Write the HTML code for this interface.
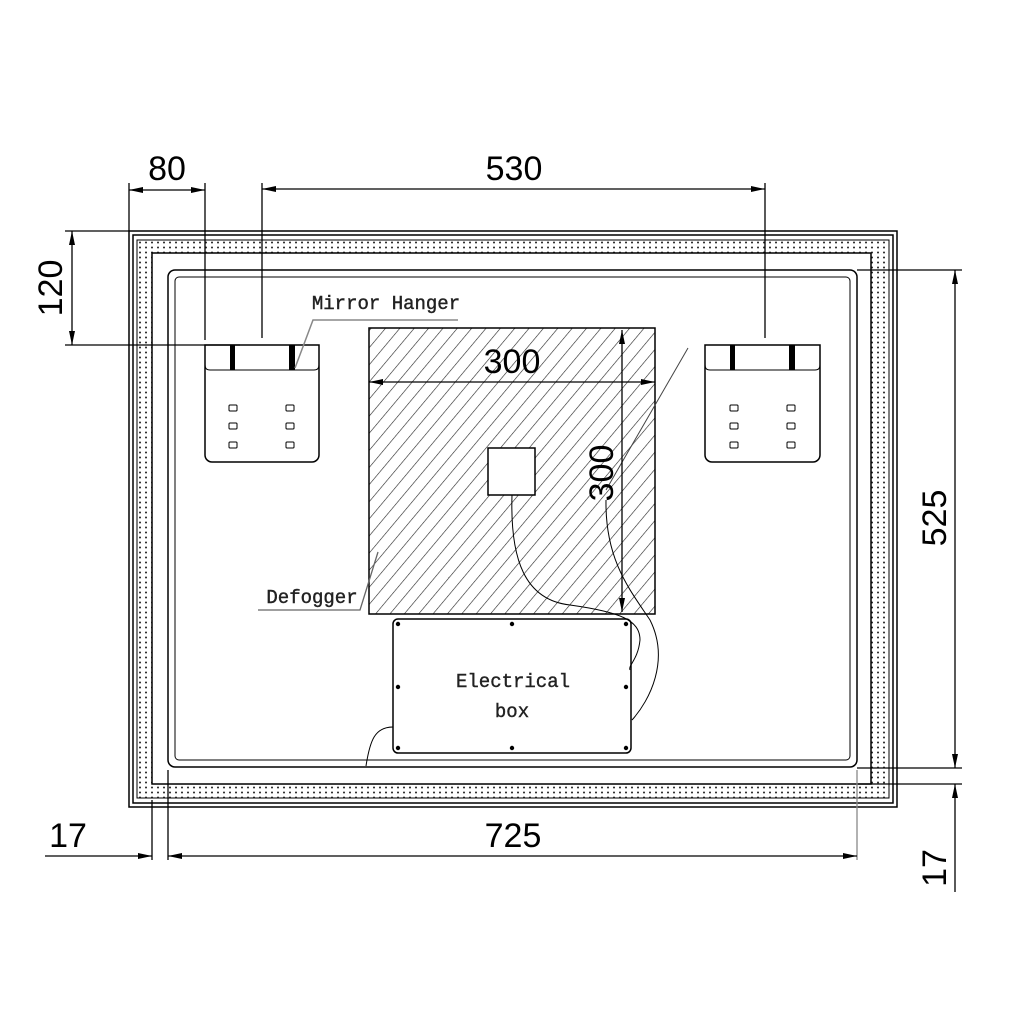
<!DOCTYPE html>
<html><head><meta charset="utf-8"><style>html,body{margin:0;padding:0;background:#fff}svg{display:block}</style></head>
<body>
<svg width="1024" height="1024" viewBox="0 0 1024 1024" xmlns="http://www.w3.org/2000/svg">
<defs>
<pattern id="h" width="11" height="11" patternUnits="userSpaceOnUse" patternTransform="rotate(40)">
<line x1="0" y1="0" x2="0" y2="11" stroke="#222" stroke-width="1.2"/></pattern>
<pattern id="d" width="6" height="5" patternUnits="userSpaceOnUse" x="137" y="240">
<circle cx="3" cy="2.5" r="1" fill="#222"/></pattern>
<marker id="a" viewBox="0 0 14 6" refX="14" refY="3" markerWidth="14" markerHeight="6" orient="auto-start-reverse" markerUnits="userSpaceOnUse">
<path d="M0,0 L14,3 L0,6 Z" fill="#000"/></marker>
</defs>
<g fill="none" stroke="#000" stroke-width="1.5">
<rect x="129" y="231" width="768" height="576"/>
<rect x="133" y="235" width="760" height="568"/>
<path d="M137,240 H889 V798 H137 Z M152,253 H871 V784 H152 Z" fill="url(#d)" fill-rule="evenodd" stroke="none"/>
<rect x="152" y="253" width="719" height="531"/>
<rect x="137" y="240" width="752" height="558" stroke-width="1"/>
<rect x="168" y="270" width="689" height="497" rx="7"/>
<rect x="175" y="277" width="675" height="483" rx="4" stroke-width="1"/>
<rect x="369" y="328" width="286" height="286" fill="url(#h)"/>
<rect x="488" y="448" width="47" height="47" fill="#fff"/>
<rect x="393" y="619" width="238" height="134" rx="5"/>
<path d="M205,345 H319 V455 a7,7 0 0 1 -7,7 H212 a7,7 0 0 1 -7,-7 Z"/>
<path d="M205,365 q0,5 5,5 H314 q5,0 5,-5" stroke-width="1"/>
<path d="M705,345 H820 V455 a7,7 0 0 1 -7,7 H712 a7,7 0 0 1 -7,-7 Z"/>
<path d="M705,365 q0,5 5,5 H815 q5,0 5,-5" stroke-width="1"/>
</g>
<g fill="#000">
<rect x="230" y="345" width="5" height="25"/><rect x="289" y="345" width="6" height="25"/>
<rect x="730" y="345" width="5" height="25"/><rect x="789" y="345" width="6" height="25"/>
</g>
<g fill="none" stroke="#000" stroke-width="1">
<rect x="229" y="405" width="8" height="6" rx="1"/><rect x="286" y="405" width="8" height="6" rx="1"/>
<rect x="229" y="423" width="8" height="6" rx="1"/><rect x="286" y="423" width="8" height="6" rx="1"/>
<rect x="229" y="442" width="8" height="6" rx="1"/><rect x="286" y="442" width="8" height="6" rx="1"/>
<rect x="730" y="405" width="8" height="6" rx="1"/><rect x="787" y="405" width="8" height="6" rx="1"/>
<rect x="730" y="423" width="8" height="6" rx="1"/><rect x="787" y="423" width="8" height="6" rx="1"/>
<rect x="730" y="442" width="8" height="6" rx="1"/><rect x="787" y="442" width="8" height="6" rx="1"/>
<path d="M512,495 C510,560 525,600 570,605 C620,612 640,620 640,640 C638,660 628,665 630,670"/>
<path d="M606,500 C605,560 630,590 650,620 C670,660 650,700 632,720"/>
<path d="M393,727 C375,727 370,740 366,766"/>
<path d="M295,368 L313,320 H458" stroke="#888" stroke-width="1.5"/>
<path d="M258,610 H360 L378,552" stroke="#666" stroke-width="1.3"/>
<path d="M606,490 L688,348" stroke="#444"/>
</g>
<g fill="#000">
<circle cx="398" cy="624" r="2.2"/><circle cx="512" cy="624" r="2.2"/><circle cx="626" cy="624" r="2.2"/>
<circle cx="398" cy="687" r="2.2"/><circle cx="626" cy="687" r="2.2"/>
<circle cx="398" cy="748" r="2.2"/><circle cx="512" cy="748" r="2.2"/><circle cx="626" cy="748" r="2.2"/>
</g>
<g stroke="#000" stroke-width="1.3" fill="none">
<line x1="129" y1="183" x2="129" y2="231"/><line x1="205" y1="183" x2="205" y2="340"/>
<line x1="129" y1="190" x2="205" y2="190" marker-start="url(#a)" marker-end="url(#a)"/>
<line x1="262" y1="183" x2="262" y2="338"/><line x1="765" y1="183" x2="765" y2="338"/>
<line x1="262" y1="189" x2="765" y2="189" marker-start="url(#a)" marker-end="url(#a)"/>
<line x1="65" y1="231" x2="129" y2="231"/><line x1="65" y1="345" x2="240" y2="345"/>
<line x1="72" y1="231" x2="72" y2="345" marker-start="url(#a)" marker-end="url(#a)"/>
<line x1="857" y1="270" x2="962" y2="270"/><line x1="857" y1="768" x2="962" y2="768"/>
<line x1="857" y1="784" x2="962" y2="784"/>
<line x1="955" y1="270" x2="955" y2="768" marker-start="url(#a)" marker-end="url(#a)"/>
<line x1="955" y1="892" x2="955" y2="784" marker-end="url(#a)"/>
<line x1="152" y1="800" x2="152" y2="860"/><line x1="168" y1="770" x2="168" y2="860"/>
<line x1="857" y1="770" x2="857" y2="860" stroke="#888"/>
<line x1="168" y1="856" x2="857" y2="856" marker-start="url(#a)" marker-end="url(#a)"/>
<line x1="45" y1="856" x2="152" y2="856" marker-end="url(#a)"/>
<line x1="369" y1="382" x2="655" y2="382" marker-start="url(#a)" marker-end="url(#a)"/>
<line x1="622" y1="330" x2="622" y2="612" marker-start="url(#a)" marker-end="url(#a)"/>
</g>
<g font-family="Liberation Sans, sans-serif" font-size="34" fill="#000" text-anchor="middle">
<text x="167" y="180">80</text>
<text x="514" y="180">530</text>
<text x="512" y="373">300</text>
<text x="513" y="847">725</text>
<text x="68" y="847">17</text>
<text transform="translate(62,288) rotate(-90)">120</text>
<text transform="translate(946,518) rotate(-90)">525</text>
<text transform="translate(946,868) rotate(-90)">17</text>
<text transform="translate(613,473) rotate(-90)">300</text>
</g>
<g font-family="Liberation Mono, monospace" font-size="19" fill="#222" text-anchor="middle" stroke="#222" stroke-width="0.4">
<text x="386" y="309">Mirror Hanger</text>
<text x="312" y="603">Defogger</text>
<text x="513" y="687">Electrical</text>
<text x="512" y="717">box</text>
</g>
</svg>
</body></html>
